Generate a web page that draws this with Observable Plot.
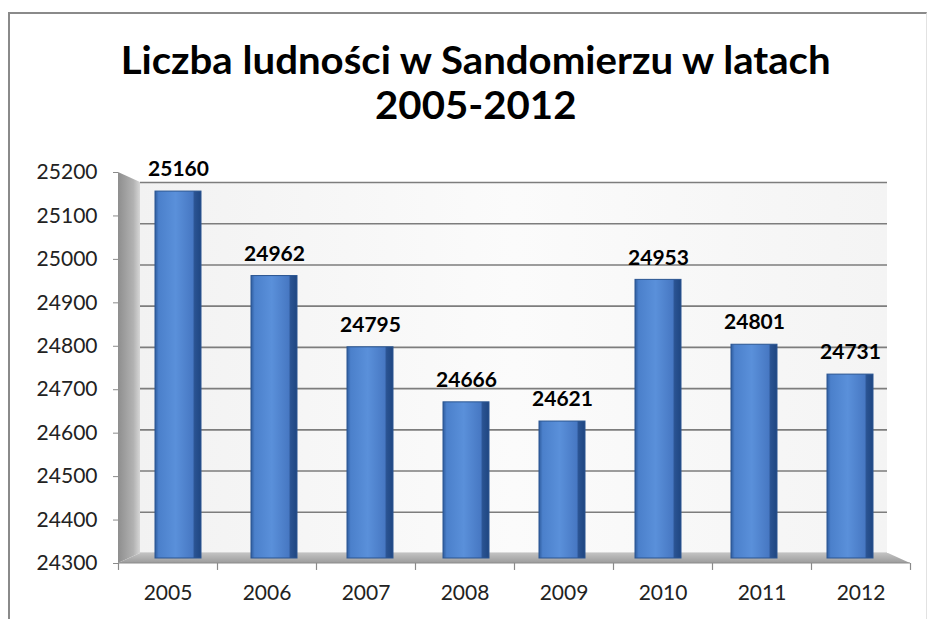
<!DOCTYPE html>
<html><head><meta charset="utf-8">
<script src="https://cdn.jsdelivr.net/npm/d3@7"></script>
<script src="https://cdn.jsdelivr.net/npm/@observablehq/plot@0.6"></script>
<style>
html,body{margin:0;padding:0;background:#fff;}
#root{position:relative;width:932px;height:619px;overflow:hidden;font-family:Lato,sans-serif;}
#frame{position:absolute;left:8px;top:12px;width:916px;height:640px;border-top:2px solid #8a8a8a;border-left:2px solid #8a8a8a;border-right:1px solid #e2e2e2;}
.layer{position:absolute;left:0;top:0;}
#title{position:absolute;left:20px;top:37px;width:912px;text-align:center;font-weight:700;font-size:39px;line-height:45px;color:#000;}
#title span{display:inline-block;transform-origin:center;}
</style></head><body>
<div id="root">
  <div id="frame"></div>
  <div id="b1" class="layer"></div>
  <div id="b2" class="layer"></div>
  <div id="b3" class="layer"></div>
  <div id="title"><span id="t1">Liczba ludności w Sandomierzu w latach</span><br><span id="t2">2005-2012</span></div>
</div>
<script>
const years = ["2005","2006","2007","2008","2009","2010","2011","2012"];
const population = [25160, 24962, 24795, 24666, 24621, 24953, 24801, 24731];
const yTicks = [24300, 24400, 24500, 24600, 24700, 24800, 24900, 25000, 25100, 25200];
const yDomain = [24300, 25200];

const rows = years.map((y, i) => ({year: y, value: population[i]}));
const W = 932, H = 619;
const baseStyle = {background: "none", fontFamily: "Lato, sans-serif", fontSize: "21px", overflow: "visible"};

// Back wall with gridlines (back plane of the 3D box)
const back = Plot.plot({
  width: W, height: H,
  marginTop: 182, marginBottom: 66, marginLeft: 140, marginRight: 45,
  style: baseStyle,
  x: {axis: null, domain: [0, 1]},
  y: {axis: null, domain: yDomain},
  marks: [
    Plot.rect([0], {x1: 0, x2: 1, y1: () => yDomain[0], y2: () => yDomain[1], fill: "url(#wallGrad)"}),
    Plot.ruleY(yTicks, {stroke: "#7d7d7d", strokeWidth: 1.6})
  ]
});
d3.select(back).insert("defs", ":first-child").html(`
  <linearGradient id="wallGrad" x1="0" y1="0" x2="1" y2="0">
    <stop offset="0" stop-color="#f2f2f2"/>
    <stop offset="0.5" stop-color="#fbfbfb"/>
    <stop offset="1" stop-color="#f4f4f4"/>
  </linearGradient>`);
document.getElementById("b1").appendChild(back);

// Front plane: side wall, floor, axes
function decor(index, {x, y}) {
  const g = d3.create("svg:g");
  const x0 = x(0), x8 = x(8), yt = y(yDomain[1]), yb = y(yDomain[0]);
  const d = 22, v = 10;
  g.append("path")
    .attr("d", `M${x0},${yt}L${x0 + d},${yt + v}L${x0 + d},${yb - v}L${x0},${yb}Z`)
    .attr("fill", "url(#sideGrad)");
  g.append("path")
    .attr("d", `M${x0},${yb}L${x0 + d},${yb - v}L${x8 - d},${yb - v}L${x8},${yb}Z`)
    .attr("fill", "url(#floorGrad)");
  g.append("path")
    .attr("d", `M${x0},${yb}L${x8},${yb}`)
    .attr("stroke", "#8c8c8c").attr("stroke-width", 1.2);
  return g.node();
}

const front = Plot.plot({
  width: W, height: H,
  marginTop: 172, marginBottom: 56, marginLeft: 118, marginRight: 22,
  style: baseStyle,
  x: {axis: null, domain: [0, 8]},
  y: {axis: null, domain: yDomain},
  marks: [
    decor,
    Plot.axisY(yTicks, {tickSize: 5, tickPadding: 16, tickFormat: d => String(d), stroke: "#8a8a8a", fill: "#222", fontSize: 21, label: null}),
    Plot.ruleX(d3.range(years.length + 1), {y1: () => 24300, y2: () => 24284, stroke: "#8a8a8a", strokeWidth: 1.2}),
    Plot.text(years, {x: (d, i) => i + 0.5, frameAnchor: "bottom", dy: 36, text: d => d, fontSize: 21, fill: "#222"})
  ]
});
d3.select(front).insert("defs", ":first-child").html(`
  <linearGradient id="sideGrad" x1="0" y1="0" x2="1" y2="0">
    <stop offset="0" stop-color="#8e8e8e"/>
    <stop offset="0.7" stop-color="#b2b2b2"/>
    <stop offset="1" stop-color="#d6d6d6"/>
  </linearGradient>
  <linearGradient id="floorGrad" x1="0" y1="0" x2="0" y2="1">
    <stop offset="0" stop-color="#c2c2c2"/>
    <stop offset="1" stop-color="#9c9c9c"/>
  </linearGradient>`);
document.getElementById("b2").appendChild(front);

// Bars
const bars = Plot.plot({
  width: W, height: H,
  marginTop: 174, marginBottom: 61, marginLeft: 126, marginRight: 30,
  style: baseStyle,
  x: {axis: null, domain: years, paddingInner: 0.52, paddingOuter: 0.3},
  y: {axis: null, domain: yDomain},
  marks: [
    Plot.barY(rows, {x: "year", y1: () => 24300, y2: "value", fill: "url(#barGrad)", stroke: "#2a5591", strokeWidth: 1}),
    Plot.text(rows, {x: "year", y: "value", text: d => String(d.value), dy: -22, fontSize: 21, fontWeight: 700, fill: "#000"})
  ]
});
d3.select(bars).insert("defs", ":first-child").html(`
  <linearGradient id="barGrad" x1="0" y1="0" x2="1" y2="0">
    <stop offset="0" stop-color="#2f5d9f"/>
    <stop offset="0.08" stop-color="#4b80cb"/>
    <stop offset="0.45" stop-color="#5a90da"/>
    <stop offset="0.82" stop-color="#4778c3"/>
    <stop offset="0.86" stop-color="#2a5392"/>
    <stop offset="1" stop-color="#1f4681"/>
  </linearGradient>`);
document.getElementById("b3").appendChild(bars);

// Fit title width to the reference
const t1 = document.getElementById("t1"), t2 = document.getElementById("t2");
const s = 710 / t1.getBoundingClientRect().width;
t1.style.transform = `scaleX(${s})`;
t2.style.transform = `scaleX(${s})`;
</script>
</body></html>
